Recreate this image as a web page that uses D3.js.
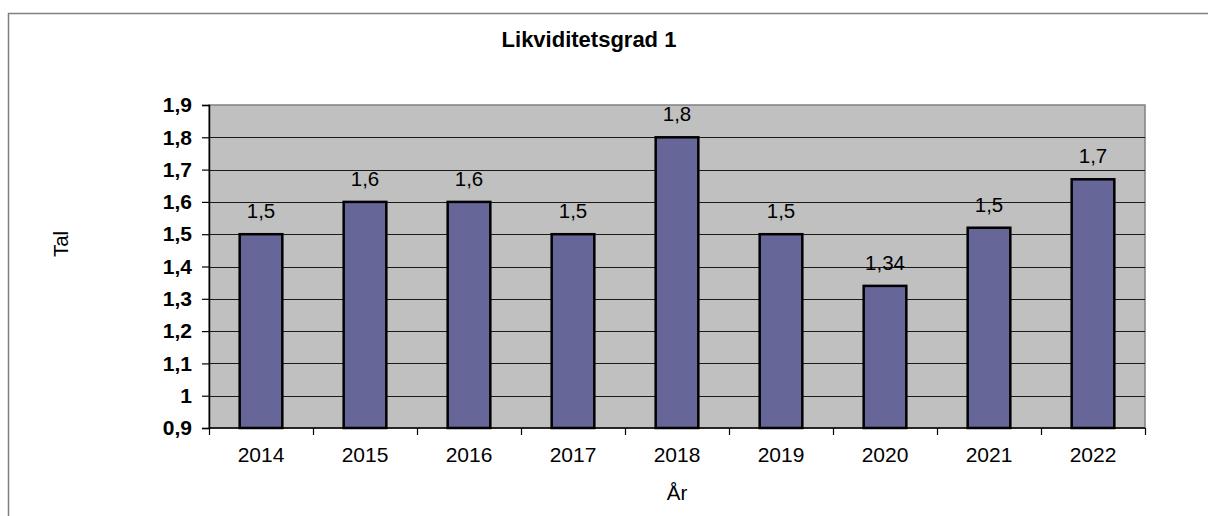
<!DOCTYPE html>
<html>
<head>
<meta charset="utf-8">
<script src="https://cdn.jsdelivr.net/npm/d3@7"></script>
<style>
  body { margin: 0; background: white; }
  svg { display: block; font-family: "Liberation Sans", Arial, sans-serif; }
</style>
</head>
<body>
<script>
const years = ['2014', '2015', '2016', '2017', '2018', '2019', '2020', '2021', '2022']
const values = [1.5, 1.6, 1.6, 1.5, 1.8, 1.5, 1.34, 1.52, 1.67]
const valueLabels = ['1,5', '1,6', '1,6', '1,5', '1,8', '1,5', '1,34', '1,5', '1,7']
const yTicks = [0.9, 1.0, 1.1, 1.2, 1.3, 1.4, 1.5, 1.6, 1.7, 1.8, 1.9]

const W = 1208, H = 516
const plot = { left: 209, right: 1145, top: 105, bottom: 428 }

const svg = d3.select("body")
    .append("svg")
    .attr("width", W)
    .attr("height", H)

// outer chart frame (right and bottom sides run off the picture)
svg.append("rect")
    .attr("x", 8.5)
    .attr("y", 13.5)
    .attr("width", W + 10)
    .attr("height", H + 10)
    .attr("fill", "white")
    .attr("stroke", "#808080")
    .attr("stroke-width", 1.5)

const xScale = d3.scaleBand()
    .domain(years)
    .range([plot.left, plot.right])
    .padding(0)

const yScale = d3.scaleLinear()
    .domain([0.9, 1.9])
    .range([plot.bottom, plot.top])

// plot area
svg.append("rect")
    .attr("x", plot.left)
    .attr("y", plot.top)
    .attr("width", plot.right - plot.left)
    .attr("height", plot.bottom - plot.top)
    .attr("fill", "#c0c0c0")
    .attr("stroke", "#808080")
    .attr("stroke-width", 1.5)

// gridlines
svg.append("g")
    .selectAll("line")
    .data(yTicks.slice(1, -1))
    .enter()
    .append("line")
    .attr("x1", plot.left)
    .attr("x2", plot.right)
    .attr("y1", d => Math.round(yScale(d)) + 0.5)
    .attr("y2", d => Math.round(yScale(d)) + 0.5)
    .attr("stroke", "#1a1a1a")
    .attr("stroke-width", 1.2)

// bars
const barW = xScale.bandwidth() * 0.41
svg.append("g")
    .selectAll("rect")
    .data(values)
    .enter()
    .append("rect")
    .attr("x", (d, i) => xScale(years[i]) + (xScale.bandwidth() - barW) / 2)
    .attr("y", d => yScale(d))
    .attr("width", barW)
    .attr("height", d => plot.bottom - yScale(d))
    .attr("fill", "#666699")
    .attr("stroke", "black")
    .attr("stroke-width", 2.5)

// value labels
svg.append("g")
    .selectAll("text")
    .data(values)
    .enter()
    .append("text")
    .attr("x", (d, i) => xScale(years[i]) + xScale.bandwidth() / 2)
    .attr("y", d => yScale(d) - 16)
    .attr("text-anchor", "middle")
    .attr("font-size", "20.5px")
    .attr("fill", "black")
    .text((d, i) => valueLabels[i])

// y axis
const yAxis = d3.axisLeft(yScale)
    .tickValues(yTicks)
    .tickSize(7)
    .tickPadding(10)
    .tickFormat(d => d3.format(".1f")(d).replace(".0", "").replace(".", ","))

const yG = svg.append("g")
    .attr("transform", `translate(${plot.left}, 0)`)
    .call(yAxis)
yG.select(".domain").attr("stroke", "black").attr("stroke-width", 1.5)
yG.selectAll(".tick line").attr("stroke", "black").attr("stroke-width", 1.2)
yG.selectAll(".tick text")
    .attr("font-size", "21px")
    .attr("font-weight", "bold")
    .attr("font-family", "Liberation Sans, Arial, sans-serif")
    .attr("fill", "black")

// x axis: ticks at category boundaries
const xG = svg.append("g")
    .attr("transform", `translate(0, ${plot.bottom})`)
xG.append("line")
    .attr("x1", plot.left)
    .attr("x2", plot.right)
    .attr("stroke", "black")
    .attr("stroke-width", 1.5)
xG.selectAll(".xt")
    .data(years.concat(["end"]))
    .enter()
    .append("line")
    .attr("class", "xt")
    .attr("x1", (d, i) => Math.round(plot.left + i * xScale.step()) + 0.5)
    .attr("x2", (d, i) => Math.round(plot.left + i * xScale.step()) + 0.5)
    .attr("y1", 0)
    .attr("y2", 7)
    .attr("stroke", "black")
    .attr("stroke-width", 1.2)
xG.selectAll(".xl")
    .data(years)
    .enter()
    .append("text")
    .attr("class", "xl")
    .attr("x", d => xScale(d) + xScale.bandwidth() / 2)
    .attr("y", 34)
    .attr("text-anchor", "middle")
    .attr("font-size", "21px")
    .attr("fill", "black")
    .text(d => d)

// title
svg.append("text")
    .attr("x", 589)
    .attr("y", 47)
    .attr("text-anchor", "middle")
    .attr("font-size", "22px")
    .attr("font-weight", "bold")
    .text("Likviditetsgrad 1")

// axis titles
svg.append("text")
    .attr("text-anchor", "middle")
    .attr("x", 677)
    .attr("y", 500)
    .attr("font-size", "20.5px")
    .text("År")

svg.append("text")
    .attr("text-anchor", "middle")
    .attr("transform", "translate(68, 244) rotate(-90)")
    .attr("font-size", "20.5px")
    .text("Tal")
</script>
</body>
</html>
